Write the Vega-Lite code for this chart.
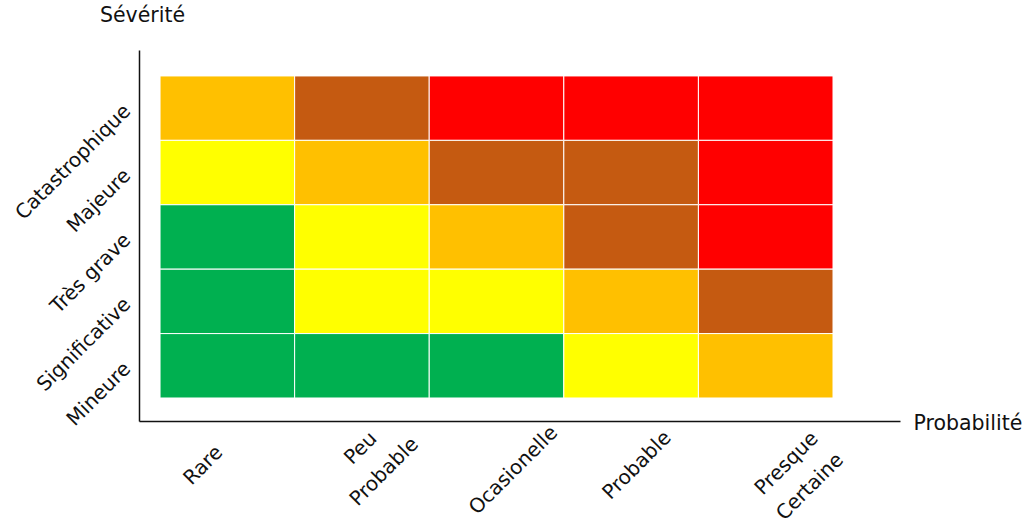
{
  "$schema": "https://vega.github.io/schema/vega-lite/v6.json",
  "width": 761,
  "height": 371,
  "autosize": "none",
  "padding": {"left": 139, "top": 50, "right": 124, "bottom": 105},
  "background": "white",
  "config": {
    "view": {"stroke": null},
    "font": "DejaVu Sans"
  },
  "data": {
    "values": [
      {"severite": "Catastrophique", "probabilite": "Rare", "niveau": "Élevé"},
      {"severite": "Catastrophique", "probabilite": "Peu Probable", "niveau": "Très élevé"},
      {"severite": "Catastrophique", "probabilite": "Ocasionelle", "niveau": "Critique"},
      {"severite": "Catastrophique", "probabilite": "Probable", "niveau": "Critique"},
      {"severite": "Catastrophique", "probabilite": "Presque Certaine", "niveau": "Critique"},
      {"severite": "Majeure", "probabilite": "Rare", "niveau": "Modéré"},
      {"severite": "Majeure", "probabilite": "Peu Probable", "niveau": "Élevé"},
      {"severite": "Majeure", "probabilite": "Ocasionelle", "niveau": "Très élevé"},
      {"severite": "Majeure", "probabilite": "Probable", "niveau": "Très élevé"},
      {"severite": "Majeure", "probabilite": "Presque Certaine", "niveau": "Critique"},
      {"severite": "Très grave", "probabilite": "Rare", "niveau": "Faible"},
      {"severite": "Très grave", "probabilite": "Peu Probable", "niveau": "Modéré"},
      {"severite": "Très grave", "probabilite": "Ocasionelle", "niveau": "Élevé"},
      {"severite": "Très grave", "probabilite": "Probable", "niveau": "Très élevé"},
      {"severite": "Très grave", "probabilite": "Presque Certaine", "niveau": "Critique"},
      {"severite": "Significative", "probabilite": "Rare", "niveau": "Faible"},
      {"severite": "Significative", "probabilite": "Peu Probable", "niveau": "Modéré"},
      {"severite": "Significative", "probabilite": "Ocasionelle", "niveau": "Modéré"},
      {"severite": "Significative", "probabilite": "Probable", "niveau": "Élevé"},
      {"severite": "Significative", "probabilite": "Presque Certaine", "niveau": "Très élevé"},
      {"severite": "Mineure", "probabilite": "Rare", "niveau": "Faible"},
      {"severite": "Mineure", "probabilite": "Peu Probable", "niveau": "Faible"},
      {"severite": "Mineure", "probabilite": "Ocasionelle", "niveau": "Faible"},
      {"severite": "Mineure", "probabilite": "Probable", "niveau": "Modéré"},
      {"severite": "Mineure", "probabilite": "Presque Certaine", "niveau": "Élevé"}
    ]
  },
  "mark": {"type": "rect", "stroke": "white", "strokeWidth": 1},
  "encoding": {
    "x": {
      "field": "probabilite",
      "type": "nominal",
      "scale": {
        "domain": ["Rare", "Peu Probable", "Ocasionelle", "Probable", "Presque Certaine"],
        "paddingInner": 0,
        "paddingOuter": 0.327,
        "align": 0.239
      },
      "axis": {
        "title": "Probabilité",
        "titleAngle": 0,
        "titleAlign": "left",
        "titleBaseline": "middle",
        "titleX": 774,
        "titleY": 2,
        "titleFontSize": 20.5,
        "titleFontWeight": "normal",
        "titleColor": "#111111",
        "domainColor": "#111111",
        "domainWidth": 1.5,
        "ticks": false,
        "tickSize": 0,
        "grid": false,
        "labelAngle": -45,
        "labelAlign": "center",
        "labelBaseline": "middle",
        "labelFontSize": 20,
        "labelColor": "#111111",
        "labelLineHeight": 33,
        "labelOverlap": false,
        "labelBound": false,
        "labelFlush": false,
        "labelExpr": "split(datum.label, ' ')",
        "labelOffset": {
          "condition": [
            {"test": "datum.value == 'Rare'", "value": -24},
            {"test": "datum.value == 'Peu Probable'", "value": -1},
            {"test": "datum.value == 'Ocasionelle'", "value": 17},
            {"test": "datum.value == 'Probable'", "value": 6}
          ],
          "value": 21
        },
        "labelPadding": {
          "condition": [
            {"test": "datum.value == 'Rare'", "value": 44},
            {"test": "datum.value == 'Peu Probable'", "value": 27},
            {"test": "datum.value == 'Ocasionelle'", "value": 49},
            {"test": "datum.value == 'Probable'", "value": 44}
          ],
          "value": 42
        }
      }
    },
    "y": {
      "field": "severite",
      "type": "nominal",
      "scale": {
        "domain": ["Catastrophique", "Majeure", "Très grave", "Significative", "Mineure"],
        "paddingInner": 0,
        "paddingOuter": 0.38,
        "align": 0.53
      },
      "axis": {
        "title": "Sévérité",
        "titleAngle": 0,
        "titleAlign": "center",
        "titleBaseline": "middle",
        "titleX": 3,
        "titleY": -35,
        "titleFontSize": 20.5,
        "titleFontWeight": "normal",
        "titleColor": "#111111",
        "domainColor": "#111111",
        "domainWidth": 1.5,
        "ticks": false,
        "tickSize": 0,
        "grid": false,
        "labelAngle": -45,
        "labelAlign": "right",
        "labelBaseline": "middle",
        "labelFontSize": 20,
        "labelColor": "#111111",
        "labelPadding": 12,
        "labelOverlap": false,
        "labelBound": false,
        "labelFlush": false
      }
    },
    "color": {
      "field": "niveau",
      "type": "nominal",
      "scale": {
        "domain": ["Faible", "Modéré", "Élevé", "Très élevé", "Critique"],
        "range": ["#00B050", "#FFFF00", "#FFC000", "#C55A11", "#FF0000"]
      },
      "legend": null
    }
  }
}
